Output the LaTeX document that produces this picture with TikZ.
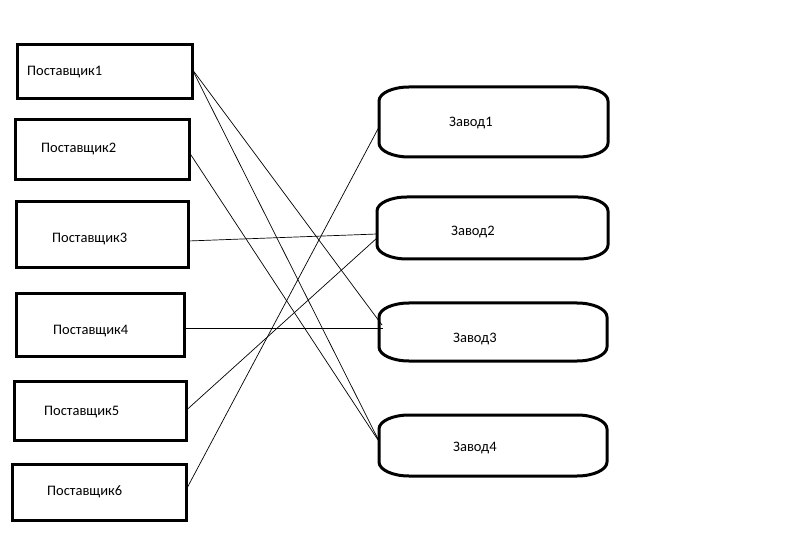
\documentclass[tikz,border=0pt]{standalone}
\usepackage{fontspec}
\setmainfont{Carlito}
\usetikzlibrary{calc}
\tikzset{
  box/.style={draw=black, line width=3pt, minimum width=#1, inner sep=0pt, outer sep=0pt},
  zbox/.style={draw=none, inner sep=0pt, outer sep=0pt},
  zline/.style={line width=3pt, line join=round},
  lbl/.style={anchor=base west, inner sep=0pt, font=\fontsize{14.5pt}{16pt}\selectfont},
  conn/.style={line width=0.7pt},
}
\newcommand\zoutline[1]{%
  \draw[zline] ($(#1.north west)+(0,14)$) -- ($(#1.south west)+(0,-14)$)
    arc[start angle=180, end angle=90, x radius=30, y radius=14]
    -- ($(#1.south east)+(-30,0)$)
    arc[start angle=90, end angle=0, x radius=30, y radius=14]
    -- ($(#1.north east)+(0,14)$)
    arc[start angle=0, end angle=-90, x radius=30, y radius=14]
    -- ($(#1.north west)+(30,0)$)
    arc[start angle=-90, end angle=-180, x radius=30, y radius=14]
    -- cycle;}
\begin{document}
\begin{tikzpicture}[x=1pt,y=-1pt]
\useasboundingbox (0,0) rectangle (805,534);
% suppliers
\node[box=175pt, minimum height=54pt] (p1) at (104.5,72) {};
\node[box=174pt, minimum height=60pt] (p2) at (102,150) {};
\node[box=172pt, minimum height=66pt] (p3) at (102,235) {};
\node[box=168pt, minimum height=62pt] (p4) at (100,325) {};
\node[box=172pt, minimum height=59pt] (p5) at (100,410.5) {};
\node[box=174pt, minimum height=56pt] (p6) at (99,492) {};
\node[lbl] (t1) at (27,76) {Поставщик1};
\node[lbl] (t2) at (41,152.5) {Поставщик2};
\node[lbl] (t3) at (52,242.5) {Поставщик3};
\node[lbl] (t4) at (53,334.5) {Поставщик4};
\node[lbl] (t5) at (44,415.5) {Поставщик5};
\node[lbl] (t6) at (47,495.5) {Поставщик6};
% factories
\node[zbox, minimum width=229pt, minimum height=70pt] (z1) at (493.5,122) {};
\node[zbox, minimum width=231pt, minimum height=62pt] (z2) at (492.5,228) {};
\node[zbox, minimum width=228pt, minimum height=58pt] (z3) at (493,332) {};
\node[zbox, minimum width=228pt, minimum height=61pt] (z4) at (493,445.5) {};
\zoutline{z1}\zoutline{z2}\zoutline{z3}\zoutline{z4}
\node[lbl] (u1) at (449,126.5) {Завод1};
\node[lbl] (u2) at (451,235.5) {Завод2};
\node[lbl] (u3) at (453,342.5) {Завод3};
\node[lbl] (u4) at (453,451.5) {Завод4};
% connectors
\draw[conn] ([yshift=3pt]p1.east) -- ([yshift=7pt,xshift=3pt]z3.west);
\draw[conn] ([yshift=3pt]p1.east) -- ([yshift=4.5pt]z4.west);
\draw[conn] ([yshift=-2pt]p2.east) -- ([yshift=4pt]z4.west);
\draw[conn] ([yshift=-6pt]p3.east) -- ([yshift=-6pt]z2.west);
\draw[conn] ([yshift=-3pt]p4.east) -- ([yshift=4pt,xshift=4pt]z3.west);
\draw[conn] (p5.east) -- ([yshift=-10pt]z2.west);
\draw[conn] ([yshift=2pt]p6.east) -- ([yshift=-5pt]z1.west);
\end{tikzpicture}
\end{document}
